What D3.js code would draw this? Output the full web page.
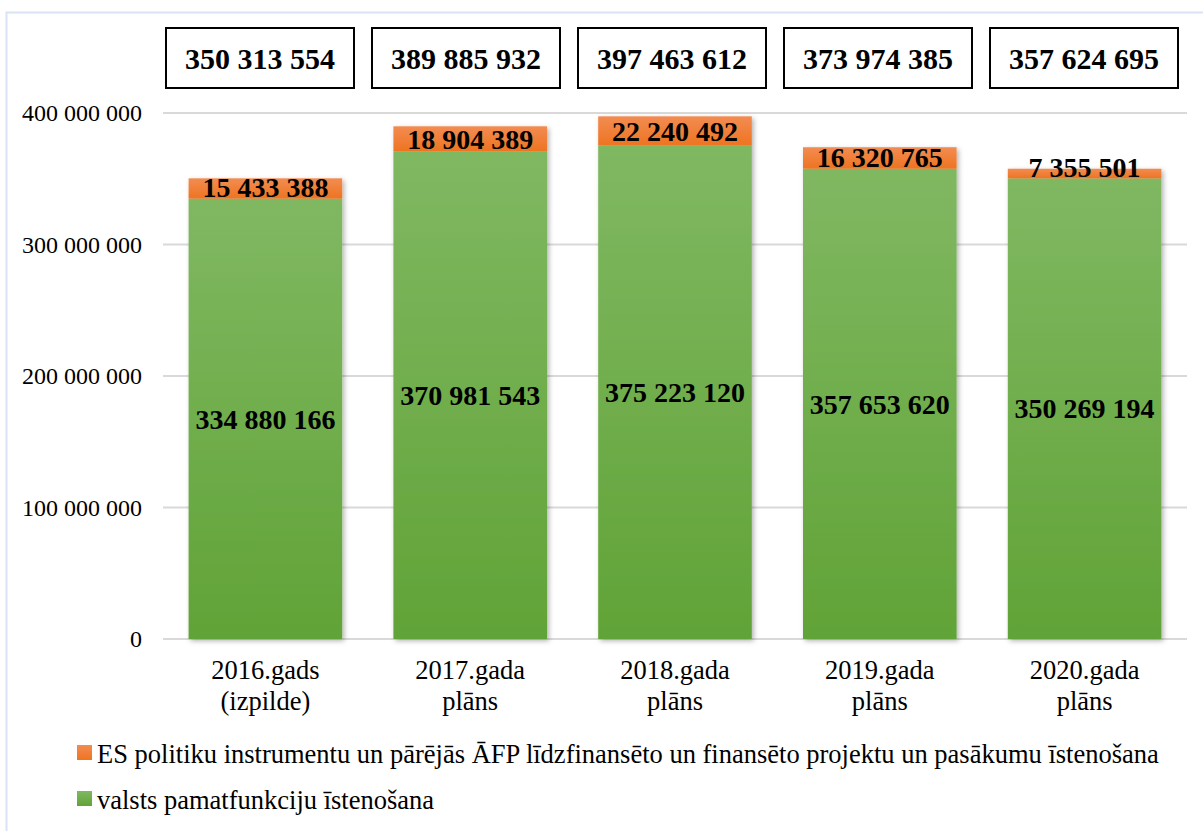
<!DOCTYPE html>
<html>
<head>
<meta charset="utf-8">
<script src="https://cdn.jsdelivr.net/npm/d3@7"></script>
<style>
  body { margin: 0; background: #fff; }
</style>
</head>
<body>
<div id="chart"></div>
<script>
const categories = [["2016.gads", "(izpilde)"], ["2017.gada", "plāns"], ["2018.gada", "plāns"], ["2019.gada", "plāns"], ["2020.gada", "plāns"]];
const baseValues = [334880166, 370981543, 375223120, 357653620, 350269194];
const euValues = [15433388, 18904389, 22240492, 16320765, 7355501];
const totals = [350313554, 389885932, 397463612, 373974385, 357624695];
const yTicks = [0, 100000000, 200000000, 300000000, 400000000];
const seriesNames = [
  "ES politiku instrumentu un pārējās ĀFP līdzfinansēto un finansēto projektu un pasākumu īstenošana",
  "valsts pamatfunkciju īstenošana"
];

const W = 1203, H = 831;
const FONT = "Liberation Serif";
const fmt = v => d3.format(",")(v).replace(/,/g, " ");

const svg = d3.select("#chart").append("svg").attr("width", W).attr("height", H);
const defs = svg.append("defs");

const gGreen = defs.append("linearGradient").attr("id", "gGreen").attr("x1", 0).attr("y1", 0).attr("x2", 0).attr("y2", 1);
gGreen.append("stop").attr("offset", "0%").attr("stop-color", "#80b862");
gGreen.append("stop").attr("offset", "100%").attr("stop-color", "#61a337");
const gOrange = defs.append("linearGradient").attr("id", "gOrange").attr("x1", 0).attr("y1", 0).attr("x2", 0).attr("y2", 1);
gOrange.append("stop").attr("offset", "0%").attr("stop-color", "#f28c52");
gOrange.append("stop").attr("offset", "100%").attr("stop-color", "#ee7420");

const shadow = defs.append("filter").attr("id", "shadow").attr("x", "-10%").attr("y", "-10%").attr("width", "130%").attr("height", "130%");
shadow.append("feDropShadow").attr("dx", 2).attr("dy", 2).attr("stdDeviation", 2.5).attr("flood-color", "#000").attr("flood-opacity", 0.3);

// outer frame
svg.append("rect").attr("x", 6.5).attr("y", 12.5).attr("width", W + 10).attr("height", H + 10)
  .attr("fill", "none").attr("stroke", "#dae3f3").attr("stroke-width", 2);

const x = d3.scaleBand().domain(d3.range(categories.length)).range([163, 1187]).paddingInner(0.25).paddingOuter(0.125);
const y = d3.scaleLinear().domain([0, 400000000]).range([639, 113]);
const xBox = d3.scaleBand().domain(d3.range(categories.length)).range([157, 1187]);

// gridlines
svg.append("g").selectAll("line").data(yTicks).join("line")
  .attr("x1", 163).attr("x2", 1187)
  .attr("y1", d => y(d)).attr("y2", d => y(d))
  .attr("stroke", "#d9d9d9").attr("stroke-width", 2);

// y axis labels
svg.append("g").selectAll("text").data(yTicks).join("text")
  .attr("x", 142).attr("y", d => y(d)).attr("dy", "0.35em")
  .attr("text-anchor", "end").attr("font-family", FONT).attr("font-size", 24).attr("fill", "#000")
  .text(fmt);

// bars
const bars = svg.append("g").attr("filter", "url(#shadow)");
bars.selectAll(".base").data(baseValues).join("rect").attr("class", "base")
  .attr("x", (d, i) => x(i)).attr("width", x.bandwidth())
  .attr("y", d => y(d)).attr("height", d => y(0) - y(d))
  .attr("fill", "url(#gGreen)");
bars.selectAll(".eu").data(euValues).join("rect").attr("class", "eu")
  .attr("x", (d, i) => x(i)).attr("width", x.bandwidth())
  .attr("y", (d, i) => y(baseValues[i] + d)).attr("height", (d, i) => y(baseValues[i]) - y(baseValues[i] + d))
  .attr("fill", "url(#gOrange)");

// segment labels
svg.append("g").selectAll("text").data(baseValues).join("text")
  .attr("x", (d, i) => x(i) + x.bandwidth() / 2).attr("y", d => y(d / 2)).attr("dy", "0.35em")
  .attr("text-anchor", "middle").attr("font-family", FONT).attr("font-size", 28).attr("font-weight", "bold")
  .text(fmt);
// small orange segments: keep label bottom close to the segment bottom
svg.append("g").selectAll("text").data(euValues).join("text")
  .attr("x", (d, i) => x(i) + x.bandwidth() / 2)
  .attr("y", (d, i) => Math.min(y(baseValues[i] + d / 2), y(baseValues[i]) - 11)).attr("dy", "0.35em")
  .attr("text-anchor", "middle").attr("font-family", FONT).attr("font-size", 28).attr("font-weight", "bold")
  .text(fmt);

// total boxes
const boxW = 188, boxH = 60;
const boxes = svg.append("g").selectAll("g").data(totals).join("g")
  .attr("transform", (d, i) => `translate(${xBox(i) + xBox.bandwidth() / 2},58)`);
boxes.append("rect").attr("x", -boxW / 2).attr("y", -boxH / 2).attr("width", boxW).attr("height", boxH)
  .attr("fill", "#fff").attr("stroke", "#000").attr("stroke-width", 2);
boxes.append("text").attr("text-anchor", "middle").attr("dy", "0.35em")
  .attr("font-family", FONT).attr("font-size", 30).attr("font-weight", "bold").text(fmt);

// category labels
const cat = svg.append("g").selectAll("text").data(categories).join("text")
  .attr("x", (d, i) => x(i) + x.bandwidth() / 2).attr("y", 679)
  .attr("text-anchor", "middle").attr("font-family", FONT).attr("font-size", 26.5);
cat.selectAll("tspan").data(d => d).join("tspan")
  .attr("x", function () { return d3.select(this.parentNode).attr("x"); })
  .attr("dy", (d, i) => i === 0 ? 0 : 31)
  .text(d => d);

// legend
const legColors = ["url(#gOrange)", "url(#gGreen)"];
const leg = svg.append("g").selectAll("g").data(seriesNames).join("g")
  .attr("transform", (d, i) => `translate(77,${745 + i * 46})`);
leg.append("rect").attr("width", 15).attr("height", 15).attr("fill", (d, i) => legColors[i]);
leg.append("text").attr("x", 20).attr("y", 9).attr("dy", "0.35em")
  .attr("font-family", FONT).attr("font-size", 26.5).text(d => d);
</script>
</body>
</html>
